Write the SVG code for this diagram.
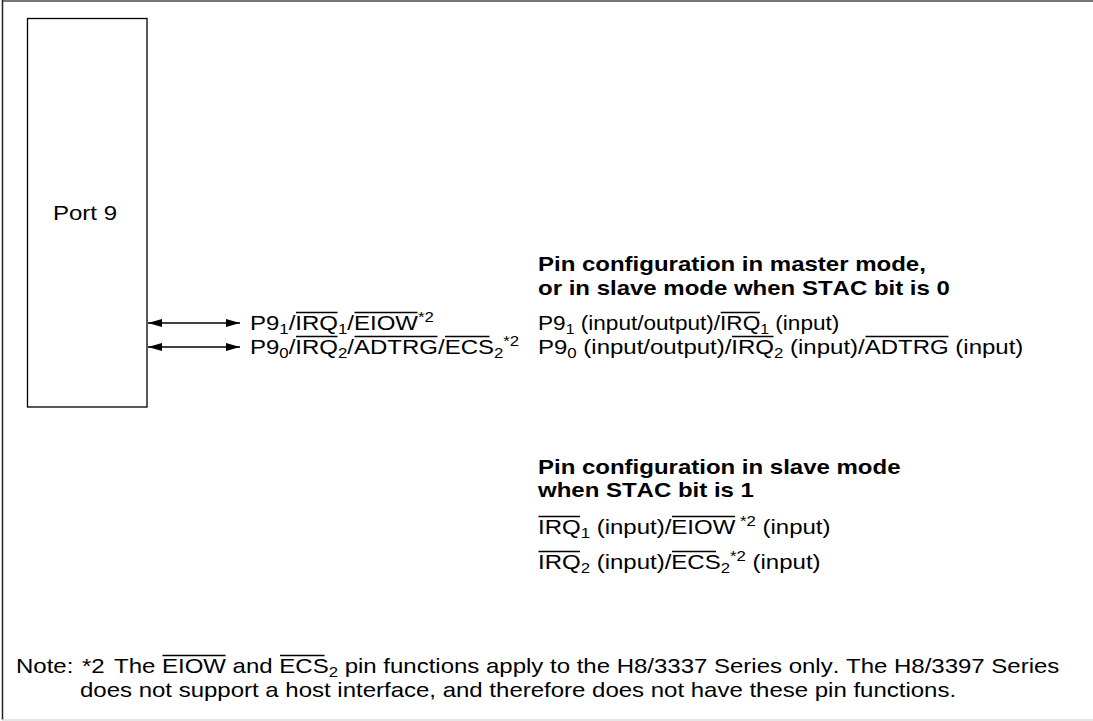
<svg xmlns="http://www.w3.org/2000/svg" width="1093" height="721" viewBox="0 0 1093 721">
<defs>
<style>
text{font-family:"Liberation Sans",Arial,sans-serif;font-size:20px;fill:#000;font-kerning:none}
.b{font-weight:bold}
.s{font-size:14px}
.ol{stroke:#000;stroke-width:1.3}
.box{fill:#fff;stroke:#000;stroke-width:1.3}
.con{stroke:#000;stroke-width:1.3;fill:none}
</style>
<marker id="ah" viewBox="0 0 14 8" refX="14" refY="4" markerWidth="14" markerHeight="8" markerUnits="userSpaceOnUse" orient="auto-start-reverse">
<path d="M0,0 L14,4 L0,8 Z" fill="#000"/>
</marker>
</defs>
<rect width="1093" height="721" fill="#fff"/>
<g id="frame">
<line x1="2" y1="1" x2="1093" y2="1" stroke="#777" stroke-width="2"/>
<line x1="2.5" y1="0" x2="2.5" y2="720" stroke="#222" stroke-width="1.5"/>
<line x1="2" y1="720" x2="1093" y2="720" stroke="#ddd" stroke-width="1.5"/>
</g>
<g id="port9">
<rect class="box" x="27.5" y="18.5" width="119.5" height="388.5"/>
<text transform="translate(53,220) scale(1.2,1)">Port 9</text>
</g>
<g id="connectors">
<line class="con" x1="148" y1="323" x2="240" y2="323" marker-start="url(#ah)" marker-end="url(#ah)"/>
<line class="con" x1="148" y1="347" x2="240" y2="347" marker-start="url(#ah)" marker-end="url(#ah)"/>
</g>
<g id="pin-labels">
<text transform="translate(250,330) scale(1.2,1)">P9<tspan class="s" dy="4">1</tspan><tspan dy="-4">/IRQ</tspan><tspan class="s" dy="4">1</tspan><tspan dy="-4">/EIOW</tspan><tspan class="s" dy="-8">*2</tspan></text>
<line class="ol" x1="296" y1="312.5" x2="337.5" y2="312.5"/>
<line class="ol" x1="354.5" y1="312.5" x2="417.5" y2="312.5"/>
<text transform="translate(250,354) scale(1.2,1)">P9<tspan class="s" dy="4">0</tspan><tspan dy="-4">/IRQ</tspan><tspan class="s" dy="4">2</tspan><tspan dy="-4">/ADTRG/ECS</tspan><tspan class="s" dy="4">2</tspan><tspan class="s" dy="-12">*2</tspan></text>
<line class="ol" x1="296" y1="336.5" x2="337.5" y2="336.5"/>
<line class="ol" x1="354.5" y1="336.5" x2="437.5" y2="336.5"/>
<line class="ol" x1="445" y1="336.5" x2="489.5" y2="336.5"/>
</g>
<g id="master-config">
<text class="b" transform="translate(538,271) scale(1.2,1)">Pin configuration in master mode,</text>
<text class="b" transform="translate(538,295) scale(1.2,1)">or in slave mode when STAC bit is 0</text>
<text transform="translate(538,330) scale(1.13,1)">P9<tspan class="s" dy="4">1</tspan><tspan dy="-4"> (input/output)/IRQ</tspan><tspan class="s" dy="4">1</tspan><tspan dy="-4"> (input)</tspan></text>
<line class="ol" x1="720.7" y1="312.5" x2="759.8" y2="312.5"/>
<text transform="translate(538,354) scale(1.2,1)">P9<tspan class="s" dy="4">0</tspan><tspan dy="-4"> (input/output)/IRQ</tspan><tspan class="s" dy="4">2</tspan><tspan dy="-4"> (input)/ADTRG (input)</tspan></text>
<line class="ol" x1="732" y1="336.5" x2="773.5" y2="336.5"/>
<line class="ol" x1="865.5" y1="336.5" x2="948.5" y2="336.5"/>
</g>
<g id="slave-config">
<text class="b" transform="translate(538,474) scale(1.2,1)">Pin configuration in slave mode</text>
<text class="b" transform="translate(538,497) scale(1.2,1)">when STAC bit is 1</text>
<text transform="translate(538,534) scale(1.2,1)">IRQ<tspan class="s" dy="4">1</tspan><tspan dy="-4"> (input)/EIOW</tspan><tspan class="s" dy="-8"> *2</tspan><tspan dy="8"> (input)</tspan></text>
<line class="ol" x1="538.5" y1="516.5" x2="580" y2="516.5"/>
<line class="ol" x1="672" y1="516.5" x2="735" y2="516.5"/>
<text transform="translate(538,569) scale(1.2,1)">IRQ<tspan class="s" dy="4">2</tspan><tspan dy="-4"> (input)/ECS</tspan><tspan class="s" dy="4">2</tspan><tspan class="s" dy="-12">*2</tspan><tspan dy="8"> (input)</tspan></text>
<line class="ol" x1="538.5" y1="551.5" x2="580" y2="551.5"/>
<line class="ol" x1="672" y1="551.5" x2="716" y2="551.5"/>
</g>
<g id="note">
<text transform="translate(16,673) scale(1.2,1)">Note:</text>
<text transform="translate(82,673) scale(1.2,1)">*2</text>
<text transform="translate(114,673) scale(1.2,1)">The EIOW and ECS<tspan class="s" dy="4">2</tspan><tspan dy="-4"> pin functions apply to the H8/3337 Series only. The H8/3397 Series</tspan></text>
<line class="ol" x1="162.5" y1="655.5" x2="225.5" y2="655.5"/>
<line class="ol" x1="280" y1="655.5" x2="324.5" y2="655.5"/>
<text transform="translate(80,697) scale(1.2,1)">does not support a host interface, and therefore does not have these pin functions.</text>
</g>
</svg>
